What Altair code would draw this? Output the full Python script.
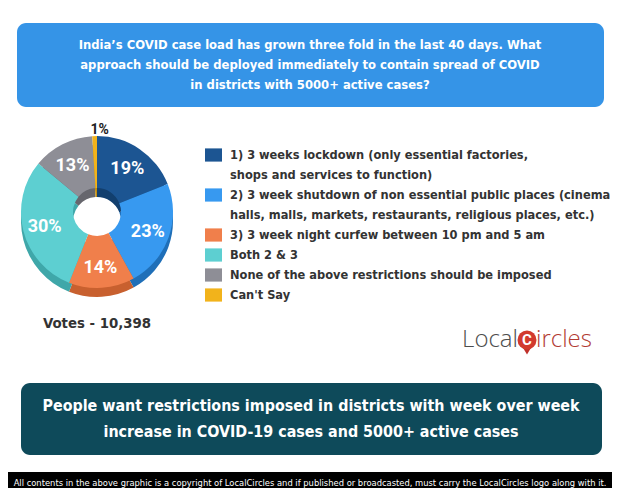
import altair as alt
import pandas as pd

# ---------------- data ----------------
title_lines = [
    "India’s COVID case load has grown three fold in the last 40 days. What",
    "approach should be deployed immediately to contain spread of COVID",
    "in districts with 5000+ active cases?",
]
bottom_lines = [
    "People want restrictions imposed in districts with week over week",
    "increase in COVID-19 cases and 5000+ active cases",
]
footer_text = ("All contents in the above graphic is a copyright of LocalCircles and if published "
               "or broadcasted, must carry the LocalCircles logo along with it.")
votes_text = "Votes - 10,398"

legend_lines = [
    ["1) 3 weeks lockdown (only essential factories,", "shops and services to function)"],
    ["2) 3 week shutdown of non essential public places (cinema",
     "halls, malls, markets, restaurants, religious places, etc.)"],
    ["3) 3 week night curfew between 10 pm and 5 am"],
    ["Both 2 & 3"],
    ["None of the above restrictions should be imposed"],
    ["Can't Say"],
]
values = [19, 23, 14, 30, 13, 1]
colors = ["#1C5592", "#3799F0", "#F07F4B", "#5DCFD1", "#8E8E96", "#F2B31B"]
side_colors = ["#123F6E", "#1F6FB8", "#C8602F", "#3FA7A9", "#66666D", "#C58F0E"]

# ---------------- tables ----------------
pie_df = pd.DataFrame({
    "order": list(range(len(values))),
    "value": values,
    "color": colors,
    "side": side_colors,
    "label": [f"{v}%" for v in values],
})

rows = []
k = 0
for i, lines in enumerate(legend_lines):
    for j, line in enumerate(lines):
        rows.append({"item": i, "row": k, "line": line, "first": j == 0, "color": colors[i]})
        k += 1
leg_df = pd.DataFrame(rows)
n_rows = k

one = pd.DataFrame({"a": [0]})

W, H = 604, 480
NARROW = "Liberation Sans Narrow, DejaVu Sans Condensed, Roboto"

# ---------------- boxes ----------------
title_box = alt.Chart(one).mark_rect(color="#3594E7", cornerRadius=9).encode(
    x=alt.value(9), x2=alt.value(596), y=alt.value(15), y2=alt.value(99))
title_txt = alt.Chart(one).mark_text(
    text=title_lines, font=NARROW, fontWeight="bold", fontSize=12.9, color="white",
    lineHeight=20, align="center", baseline="middle").encode(x=alt.value(302), y=alt.value(37))

bottom_box = alt.Chart(one).mark_rect(color="#0E4A5A", cornerRadius=9).encode(
    x=alt.value(13), x2=alt.value(594), y=alt.value(375), y2=alt.value(447))
bottom_txt = alt.Chart(one).mark_text(
    text=bottom_lines, font=NARROW, fontWeight="bold", fontSize=15.9, color="white",
    lineHeight=26, align="center", baseline="middle").encode(x=alt.value(303), y=alt.value(398))

footer_box = alt.Chart(one).mark_rect(color="#000000").encode(
    x=alt.value(0), x2=alt.value(W), y=alt.value(464), y2=alt.value(H))
footer_txt = alt.Chart(one).mark_text(
    text=footer_text, font=NARROW, fontSize=9.3, color="white",
    align="center", baseline="middle").encode(x=alt.value(302), y=alt.value(475))

votes_txt = alt.Chart(one).mark_text(
    text=votes_text, font=NARROW, fontWeight="bold", fontSize=14.8, color="#333333",
    align="center", baseline="middle").encode(x=alt.value(89), y=alt.value(316))

# ---------------- donut ----------------
theta = alt.Theta("value:Q", stack=True)
base = alt.Chart(pie_df).encode(theta=theta, order=alt.Order("order:Q"))
side = base.mark_arc(innerRadius=24, outerRadius=76).encode(
    color=alt.Color("side:N", scale=None), x=alt.value(89), y=alt.value(213))
top = base.mark_arc(innerRadius=24, outerRadius=76).encode(
    color=alt.Color("color:N", scale=None), x=alt.value(89), y=alt.value(204))
labels = base.transform_calculate(
    r="datum.value < 5 ? 84 : 54").mark_text(
    font="Roboto", fontWeight="bold", baseline="middle", align="center").encode(
    text="label:N",
    x=alt.value(89), y=alt.value(206),
    radius=alt.Radius("r:Q", scale=None),
    color=alt.condition("datum.value < 5", alt.value("#222222"), alt.value("white")),
    size=alt.condition("datum.value < 5", alt.value(14), alt.value(18)),
)

# ---------------- legend ----------------
yscale = alt.Scale(domain=[0, n_rows - 1], range=[147, 147 + 20 * (n_rows - 1)])
leg_base = alt.Chart(leg_df)
leg_sq = leg_base.transform_filter("datum.first").transform_calculate(
    y1="datum.row - 0.33", y2="datum.row + 0.33").mark_rect().encode(
    x=alt.value(197), x2=alt.value(214),
    y=alt.Y("y1:Q", scale=yscale, axis=None), y2="y2:Q",
    color=alt.Color("color:N", scale=None))
leg_txt = leg_base.mark_text(font=NARROW, fontWeight="bold", fontSize=12.7, color="#333333",
                             align="left", baseline="middle").encode(
    x=alt.value(222), y=alt.Y("row:Q", scale=yscale, axis=None), text="line:N")

# ---------------- logo ----------------
logo_l = alt.Chart(one).mark_text(text="Local", font="Open Sans", fontWeight=300, fontSize=24,
                                  color="#4D4D4D", align="right", baseline="middle").encode(
    x=alt.value(510), y=alt.value(332))
logo_tail = alt.Chart(one).mark_point(shape="triangle-down", filled=True, color="#C0302A",
                                      size=70, opacity=1).encode(x=alt.value(519), y=alt.value(343))
logo_c = alt.Chart(one).mark_circle(color="#D23A2E", size=360, opacity=1).encode(
    x=alt.value(519), y=alt.value(332))
logo_cc = alt.Chart(one).mark_text(text="C", font="Roboto", fontWeight="bold", fontSize=15,
                                   color="white", align="center", baseline="middle").encode(
    x=alt.value(519), y=alt.value(332))
logo_r = alt.Chart(one).mark_text(text="ircles", font="Open Sans", fontWeight=300, fontSize=24,
                                  color="#B23B33", align="left", baseline="middle").encode(
    x=alt.value(528), y=alt.value(332))

chart = alt.layer(
    title_box, title_txt, bottom_box, bottom_txt, footer_box, footer_txt, votes_txt,
    side, top, labels, leg_sq, leg_txt, logo_tail, logo_c, logo_cc, logo_l, logo_r,
).properties(width=W, height=H, padding=0, autosize="none").configure_view(stroke=None)

chart.save("out.html", embed_options={"renderer": "svg", "actions": False})
